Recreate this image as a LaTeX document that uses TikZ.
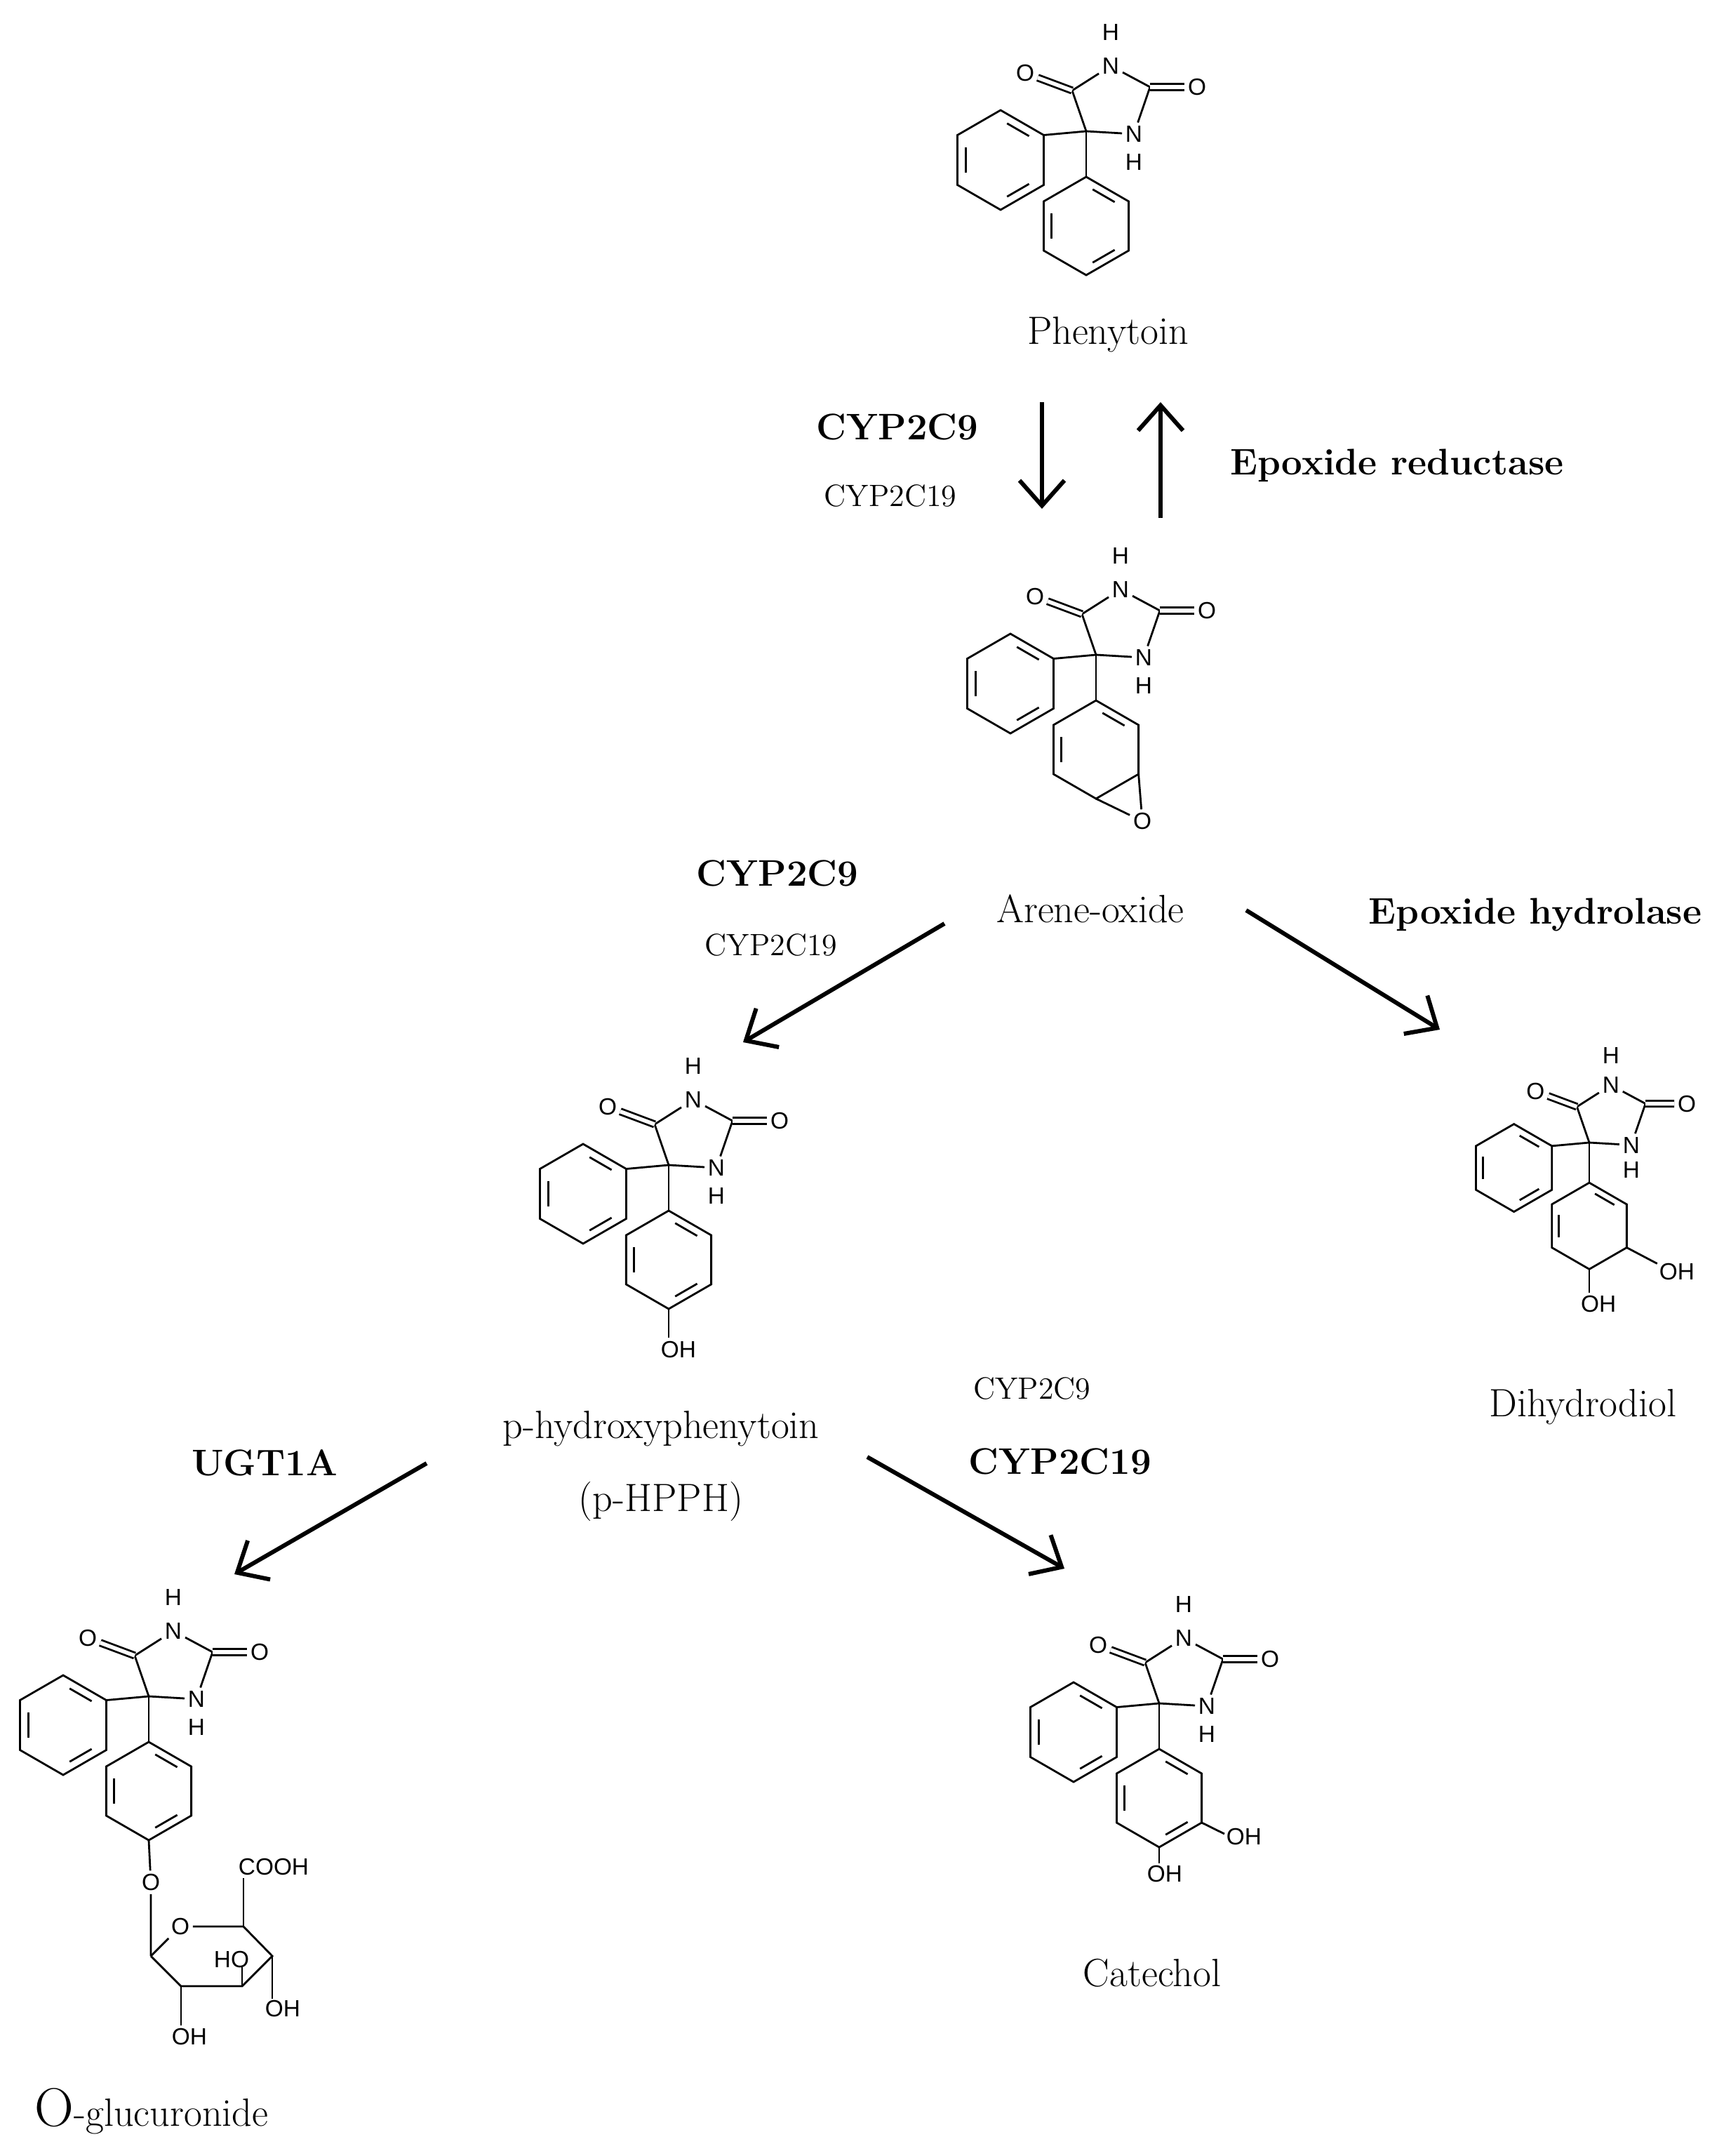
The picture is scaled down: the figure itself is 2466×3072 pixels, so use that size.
\documentclass[tikz,border=0pt]{standalone}
\usepackage{fontspec}
\newfontfamily\chemsf{Liberation Sans}
\usetikzlibrary{calc,arrows.meta}

\tikzset{
  bond/.style={line width=0.28mm},
  dbond/.style={line width=0.28mm, double, double distance=0.55mm},
  atom/.style={font=\chemsf\fontsize{9.5}{11}\selectfont, inner sep=1.2pt},
  molname/.style={font=\fontsize{16}{19}\selectfont},
  enzmain/.style={font=\bfseries\fontsize{15}{18}\selectfont},
  enzminor/.style={font=\fontsize{12.5}{15}\selectfont},
  reaction/.style={line width=0.6mm, -{Straight Barb[length=3.6mm,width=6.4mm,line width=0.6mm]}}
}

% hexagon with vertices 1..6 (top, clockwise), prefix #1, centre #2, radius #3
\newcommand\ring[3]{%
  \coordinate (#1c) at (#2);
  \foreach \k/\a in {1/-90,2/-30,3/30,4/90,5/150,6/210}
    \coordinate (#1\k) at ($(#2)+(\a:#3)$);
  \draw[bond] (#11)--(#12)--(#13)--(#14)--(#15)--(#16)--cycle;
}
% inner line of a ring double bond, edge starting at angle #2
\newcommand\inner[2]{%
  \draw[bond] ($(#1c)+(#2+10:53)$) -- ($(#1c)+(#2+50:53)$);
}
% hydantoin with phenyl and the second ring, quaternary C at origin
\newcommand\core[1]{%
  \coordinate (#1Q) at (0,0);
  \coordinate (#1C4) at (-20,-58);
  \coordinate (#1C2) at (91,-63);
  \node[atom] (#1N3) at (35,-93) {N};
  \node[atom] (#1H3) at (35,-141) {H};
  \node[atom] (#1N1) at (68,4) {N};
  \node[atom] (#1H1) at (68,44) {H};
  \node[atom] (#1O2) at (158,-63) {O};
  \node[atom] (#1O4) at (-87,-83) {O};
  \draw[bond] (#1Q)--(#1C4)--(#1N3)--(#1C2)--(#1N1)--(#1Q);
  \draw[dbond] (#1C4)--(#1O4);
  \draw[dbond] (#1C2)--(#1O2);
  \ring{#1a}{-122,41}{71}
  \inner{#1a}{-90}\inner{#1a}{150}\inner{#1a}{30}
  \draw[bond] (#1Q)--(#1a2);
  \ring{#1b}{0,135}{70}
  \inner{#1b}{-90}\inner{#1b}{150}
  \draw[bond] (#1Q)--(#1b1);
}

\begin{document}
\begin{tikzpicture}[x=0.1mm,y=-0.1mm]
\useasboundingbox (0,0) rectangle (2466,3072);

% phenytoin
\begin{scope}[shift={(1548,187)}]
  \core{p}
  \inner{pb}{30}
\end{scope}
\node[molname] (phenytoin) at (1579,477) {Phenytoin};

% arene oxide
\begin{scope}[shift={(1562,933)}]
  \core{e}
  \node[atom] (eO) at (66,237) {O};
  \draw[bond] (eb3)--(eO)--(eb4);
\end{scope}
\node[molname] (areneoxide) at (1554,1295) {Arene-oxide};

% p-HPPH
\begin{scope}[shift={(953,1660)}]
  \core{h}
  \inner{hb}{30}
  \node[atom] (hOH) at (14,263) {OH};
  \coordinate (hO) at (0,246);
  \draw[bond] (hb4)--(hO);
\end{scope}
\node[molname] (hpph) at (942,2036) {p-hydroxyphenytoin};
\node[molname] (hpphshort) at (942,2139) {(p-HPPH)};

% dihydrodiol
\begin{scope}[shift={(2265,1628)},scale=0.88]
  \core{d}
  \node[atom] (dOHa) at (142,209) {OH};
  \node[atom] (dOHb) at (15,261) {OH};
  \coordinate (dOa) at (110,196);
  \coordinate (dOb) at (0,243);
  \draw[bond] (db3)--(dOa);
  \draw[bond] (db4)--(dOb);
\end{scope}
\node[molname] (dihydrodiol) at (2256,2005) {Dihydrodiol};

% catechol
\begin{scope}[shift={(1652,2427)}]
  \core{c}
  \inner{cb}{30}
  \node[atom] (cOHa) at (121,190) {OH};
  \node[atom] (cOHb) at (8,243) {OH};
  \coordinate (cOa) at (93,186);
  \coordinate (cOb) at (0,228);
  \draw[bond] (cb3)--(cOa);
  \draw[bond] (cb4)--(cOb);
\end{scope}
\node[molname] (catechol) at (1642,2811) {Catechol};

% O-glucuronide
\begin{scope}[shift={(212,2417)}]
  \core{g}
  \inner{gb}{30}
\end{scope}
\node[atom] (gOl) at (215,2682) {O};
\node[atom] (gOr) at (257,2745) {O};
\coordinate (s1) at (215,2787);
\coordinate (s5) at (347,2745);
\coordinate (s4) at (388,2787);
\coordinate (s3) at (345,2830);
\coordinate (s2) at (258,2830);
\draw[bond] (gb4)--(gOl)--(s1);
\draw[bond] (s1)--(gOr)--(s5)--(s4)--(s3)--(s2)--(s1);
\node[atom] (cooh) at (390,2660) {COOH};
\node[atom] (oh4) at (403,2862) {OH};
\node[atom] (ho3) at (330,2792) {HO};
\node[atom] (oh2) at (270,2902) {OH};
\coordinate (t5) at (347,2676);
\coordinate (t4) at (388,2848);
\coordinate (t3) at (345,2803);
\coordinate (t2) at (258,2886);
\draw[bond] (s5)--(t5);
\draw[bond] (s4)--(t4);
\draw[bond] (s3)--(t3);
\draw[bond] (s2)--(t2);
\node[molname] (glucuronide) at (216,3008) {{\fontsize{22}{24}\selectfont O}-glucuronide};

% enzymes
\node[enzmain] (e1) at (1279,608) {CYP2C9};
\node[enzminor] (e2) at (1269,706) {CYP2C19};
\node[enzmain] (e3) at (1991,663) {Epoxide reductase};
\node[enzmain] (e4) at (1108,1244) {CYP2C9};
\node[enzminor] (e5) at (1099,1346) {CYP2C19};
\node[enzmain] (e6) at (2188,1303) {Epoxide hydrolase};
\node[enzmain] (e7) at (377,2084) {UGT1A};
\node[enzminor] (e8) at (1471,1978) {CYP2C9};
\node[enzmain] (e9) at (1511,2082) {CYP2C19};

% reaction steps
\coordinate (a1s) at (1485,573); \coordinate (a1e) at (1485,725);
\coordinate (a2s) at (1654,738); \coordinate (a2e) at (1654,573);
\coordinate (a3s) at (1346,1316); \coordinate (a3e) at (1059,1485);
\coordinate (a4s) at (1776,1297); \coordinate (a4e) at (2052,1467);
\coordinate (a5s) at (608,2085); \coordinate (a5e) at (334,2243);
\coordinate (a6s) at (1236,2076); \coordinate (a6e) at (1517,2235);
\draw[reaction] (a1s)--(a1e);
\draw[reaction] (a2s)--(a2e);
\draw[reaction] (a3s)--(a3e);
\draw[reaction] (a4s)--(a4e);
\draw[reaction] (a5s)--(a5e);
\draw[reaction] (a6s)--(a6e);
\end{tikzpicture}
\end{document}
